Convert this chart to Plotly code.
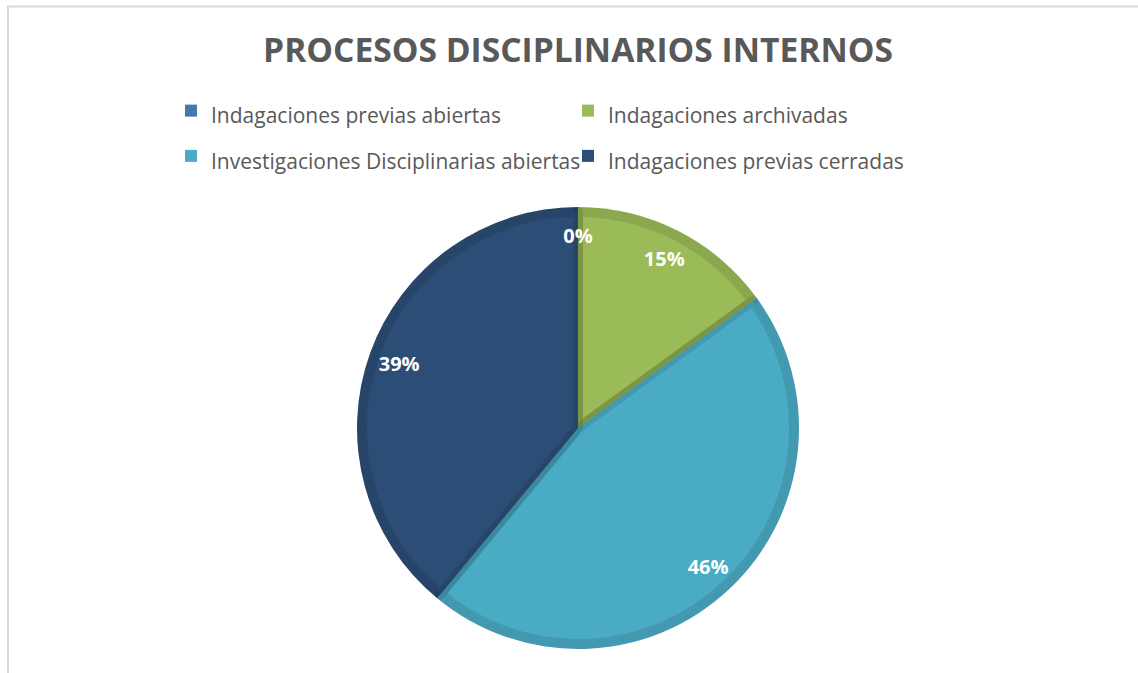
import plotly.graph_objects as go

# ---- data ----
categorias = [
    "Indagaciones previas abiertas",
    "Indagaciones archivadas",
    "Investigaciones Disciplinarias abiertas",
    "Indagaciones previas cerradas",
]
porcentajes = [0, 15, 46, 39]
titulo = "PROCESOS DISCIPLINARIOS INTERNOS"

# ---- styles ----
colores = ["#4a76ae", "#9bbb59", "#4aabc5", "#2c4d75"]
W, H = 1138, 673
cx, cy, R = 578, 428, 221
band = 10
font_fam = "Open Sans"
gris = "#595959"
label_font = dict(family=font_fam, size=20, color="white", weight="bold")


def dom(r):
    return dict(
        x=[(cx - r) / W, (cx + r) / W],
        y=[(H - cy - r) / H, (H - cy + r) / H],
    )


legend_labels = [f"<span style='font-size:21px'>{c}</span>" for c in categorias]
pct_tpl = "%{percent:.0%}"
# zero-width slices get their label from a separate, smaller layer
tpl_main = [pct_tpl if v > 0 else "" for v in porcentajes]
tpl_zero = [pct_tpl if v == 0 else "" for v in porcentajes]

common = dict(labels=legend_labels, values=porcentajes, sort=False,
              direction="clockwise", rotation=0)

fig = go.Figure()
# base disc (fill colours, full radius) - also feeds the legend
fig.add_trace(go.Pie(
    **common, domain=dom(R), marker=dict(colors=colores, line=dict(width=0)),
    textinfo="none", hoverinfo="label+percent", showlegend=True,
))
# inner layer with darkened bevel band
fig.add_trace(go.Pie(
    **common, domain=dom(R - band / 2),
    marker=dict(colors=colores,
                line=dict(width=[0 if v == 0 else band for v in porcentajes],
                          color="rgba(0,0,0,0.1)")),
    textinfo="none", hoverinfo="skip", showlegend=False,
))
# label layer
fig.add_trace(go.Pie(
    **common, domain=dom(R), hole=0.72,
    marker=dict(colors=["rgba(0,0,0,0)"] * len(porcentajes), line=dict(width=0)),
    texttemplate=tpl_main, textposition="inside",
    insidetextorientation="horizontal", textfont=label_font,
    hoverinfo="skip", showlegend=False,
))
# label layer for zero-width slices
fig.add_trace(go.Pie(
    **common, domain=dom(R - 28),
    marker=dict(colors=["rgba(0,0,0,0)"] * len(porcentajes), line=dict(width=0)),
    texttemplate=tpl_zero, textposition="inside",
    insidetextorientation="horizontal", textfont=label_font,
    hoverinfo="skip", showlegend=False,
))

fig.update_layout(
    width=W, height=H,
    margin=dict(l=0, r=0, t=0, b=0),
    paper_bgcolor="white", plot_bgcolor="white",
    uniformtext=dict(mode="show", minsize=20),
    title=dict(text=titulo, x=cx / W, xanchor="center", y=1 - 50 / H,
               yanchor="middle", yref="container",
               font=dict(family=font_fam, size=33.6, color=gris, weight="bold")),
    legend=dict(orientation="h", x=171 / W, xanchor="left", y=1 - 83 / H,
                yanchor="top", entrywidth=352, entrywidthmode="pixels",
                font=dict(family=font_fam, size=32.5, color=gris),
                bgcolor="rgba(0,0,0,0)"),
    shapes=[dict(type="rect", xref="paper", yref="paper",
                 x0=8 / W, x1=1.2, y0=-0.2, y1=1 - 6.5 / H,
                 line=dict(color="#d9d9d9", width=2))],
)

fig.write_html("out.html")
